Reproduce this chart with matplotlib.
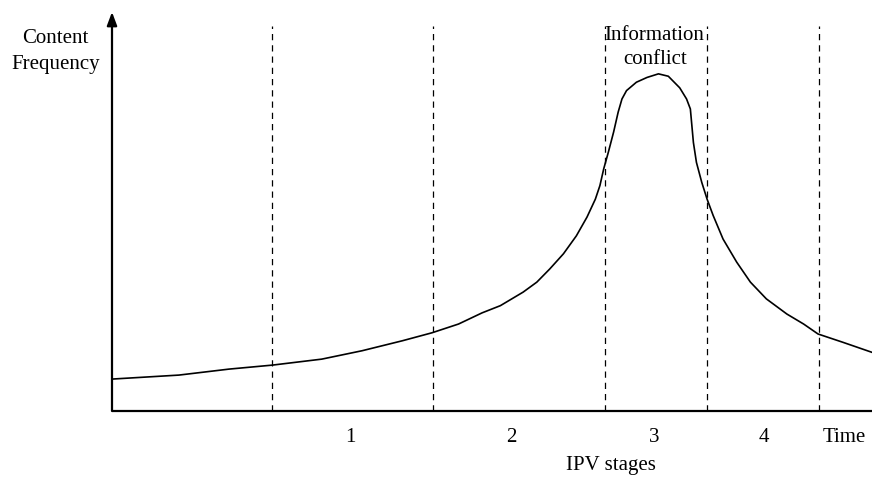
import matplotlib.pyplot as plt

plt.rcParams["font.family"] = ["Liberation Serif", "DejaVu Serif"]

# curve (time 0-100, frequency 0-100)
TIME = [0, 8.8, 15.4, 21.1, 27.6, 32.9, 38.2, 42.1, 45.6, 48.7, 51.1, 54.1,
        55.9, 57.6, 59.4, 61.1, 62.5, 63.6, 64.2, 64.7, 65.3, 66.0, 66.6,
        67.1, 67.7, 69.0, 70.4, 71.9, 73.2, 74.7, 75.6, 76.1, 76.3, 76.5,
        76.9, 77.6, 78.3, 79.1, 80.4, 82.2, 84.0, 86.1, 88.8, 91.0, 92.9,
        96.2, 100]
FREQ = [8.0, 9.0, 10.5, 11.5, 13.0, 15.1, 17.6, 19.6, 21.8, 24.6, 26.4, 29.8,
        32.3, 35.6, 39.4, 43.9, 48.6, 53.1, 56.5, 60.7, 64.8, 69.9, 74.9,
        78.2, 80.3, 82.4, 83.6, 84.5, 83.9, 81.0, 78.2, 75.7, 71.5, 67.3,
        62.3, 57.3, 53.1, 49.0, 43.1, 37.3, 32.3, 28.1, 24.3, 21.8, 19.3,
        17.2, 14.7]

STAGE_BOUNDS = [21.1, 42.2, 64.9, 78.3, 93.0]
STAGE_LABELS = ["1", "2", "3", "4"]
STAGE_POS = [31.4, 52.6, 71.4, 85.8]


def main():
    fig = plt.figure(figsize=(8.72, 4.81), dpi=100)
    ax = fig.add_axes([112 / 872, 69 / 481, 760 / 872, 399 / 481])
    ax.set_xlim(0, 100)
    ax.set_ylim(0, 100)
    ax.axis("off")

    ax.plot(TIME, FREQ, color="black", lw=1.2, clip_on=False,
            solid_joinstyle="round")

    for x in STAGE_BOUNDS:
        ax.plot([x, x], [0, 96.5], color="black", lw=0.9, ls=(0, (5, 4)), clip_on=False)

    # axes
    ax.plot([0, 100], [0, 0], color="black", lw=1.6, clip_on=False, solid_capstyle="butt")
    ax.annotate("", xy=(0, 100), xytext=(0, 0), xycoords="data",
                arrowprops=dict(arrowstyle="-|>,head_length=0.8,head_width=0.3",
                                color="black", lw=1.6, shrinkA=0, shrinkB=0),
                annotation_clip=False)

    fs = 15
    ax.text(-7.4, 90.4, "Content\nFrequency", ha="center", va="center", fontsize=fs,
            linespacing=1.5)
    ax.text(71.4, 91.4, "Information\nconflict", ha="center", va="center", fontsize=fs,
            linespacing=1.4)
    for pos, lab in zip(STAGE_POS, STAGE_LABELS):
        ax.text(pos, -6.3, lab, ha="center", va="center", fontsize=fs)
    ax.text(96.3, -6.3, "Time", ha="center", va="center", fontsize=fs)
    ax.text(65.7, -13.5, "IPV stages", ha="center", va="center", fontsize=fs)

    fig.savefig("out.png", dpi=100)


if __name__ == "__main__":
    main()
